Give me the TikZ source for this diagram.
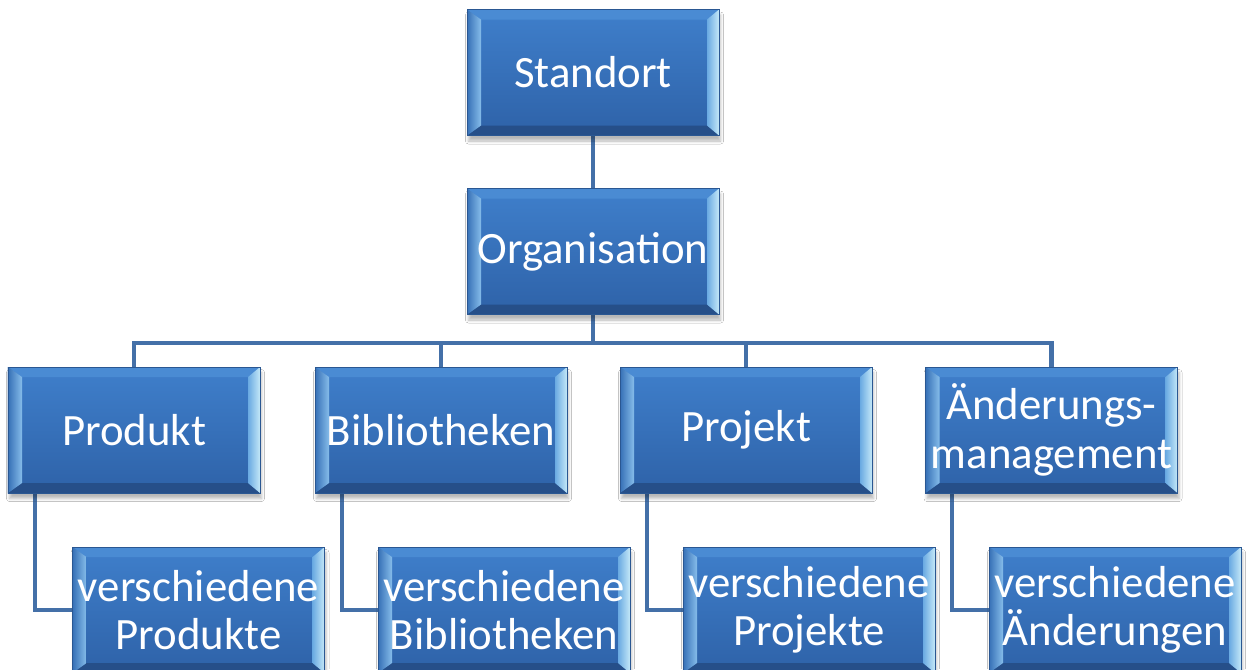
\documentclass[tikz,border=0pt]{standalone}
\usepackage{fontspec}
\setmainfont{Carlito}
\usetikzlibrary{shadows.blur,backgrounds}
\definecolor{boxtop}{HTML}{3F7FCB}
\definecolor{boxbot}{HTML}{2E62A8}
\definecolor{boxedge}{HTML}{2A5792}
\definecolor{bevlo}{HTML}{3670B6}
\definecolor{bevli}{HTML}{86BDEA}
\definecolor{bevri}{HTML}{6AAAE2}
\definecolor{bevro}{HTML}{C4E8F8}
\definecolor{bevtop}{HTML}{4A8BD3}
\definecolor{bevbot}{HTML}{264F89}
\definecolor{linkblue}{HTML}{4470A8}
\newcommand{\boxfont}{\fontsize{25.5pt}{27.5pt}\selectfont}
% bevel corner points relative to the box corners
\newcommand{\bsw}{path picture bounding box.south west}
\newcommand{\bse}{path picture bounding box.south east}
\newcommand{\bnw}{path picture bounding box.north west}
\newcommand{\bne}{path picture bounding box.north east}
\tikzset{
  bevbox/.style={rectangle, minimum width=5.04cm, minimum height=2.52cm,
    text width=5.04cm, inner sep=0pt, align=center, text=white, font=\boxfont,
    draw=boxedge, line width=0.5pt, top color=boxtop, bottom color=boxbot,
    blur shadow={shadow xshift=0.03cm, shadow yshift=-0.11cm,
      shadow blur radius=0.06cm, shadow opacity=28},
    path picture={
      % top and bottom bevels
      \fill[bevtop] (\bnw) -- (\bne) -- ([xshift=-0.24cm,yshift=-0.2cm]\bne)
        -- ([xshift=0.28cm,yshift=-0.2cm]\bnw) -- cycle;
      \fill[bevbot] (\bsw) -- (\bse) -- ([xshift=-0.24cm,yshift=0.2cm]\bse)
        -- ([xshift=0.28cm,yshift=0.2cm]\bsw) -- cycle;
      % side bevels
      \shade[left color=bevlo, right color=bevli]
        (\bsw) -- (\bnw) -- ([xshift=0.28cm,yshift=-0.2cm]\bnw)
        -- ([xshift=0.28cm,yshift=0.2cm]\bsw) -- cycle;
      \shade[left color=bevri, right color=bevro]
        (\bse) -- (\bne) -- ([xshift=-0.24cm,yshift=-0.2cm]\bne)
        -- ([xshift=-0.24cm,yshift=0.2cm]\bse) -- cycle;
    }},
  link/.style={draw=linkblue, line width=2.3pt}
}
\begin{document}
\begin{tikzpicture}
\useasboundingbox (0,0) rectangle (25,-13.38);

\node[bevbox] (standort) at (11.86,-1.45) {Standort};
\node[bevbox] (org) at (11.86,-5.03) {Organisation};

\node[bevbox] (produkt) at (2.68,-8.60) {Produkt};
\node[bevbox] (biblio) at (8.82,-8.60) {Bibliotheken};
\node[bevbox] (projekt) at (14.92,-8.60) {Projekt};
\node[bevbox] (aender) at (21.03,-8.60) {Änderungs-\\management};

\node[bevbox] (vprod) at (3.97,-12.20) {verschiedene\\Produkte};
\node[bevbox] (vbib) at (10.08,-12.20) {verschiedene\\Bibliotheken};
\node[bevbox] (vproj) at (16.18,-12.20) {verschiedene\\Projekte};
\node[bevbox] (vaend) at (22.30,-12.20) {verschiedene\\Änderungen};

\coordinate (hub) at (11.86,-6.86);

\begin{pgfonlayer}{background}
  \fill[white] (0,0) rectangle (25,-13.38);
  \draw[link] (standort.south) -- (org.north);
  \draw[link] (org.south) -- (hub);
  \draw[link] (produkt.north) |- (hub);
  \draw[link] (biblio.north) |- (hub);
  \draw[link] (projekt.north) |- (hub);
  \draw[link] (aender.north) |- (hub);
  \draw[link] ([xshift=0.54cm]produkt.south west) |- (vprod.west);
  \draw[link] ([xshift=0.54cm]biblio.south west) |- (vbib.west);
  \draw[link] ([xshift=0.54cm]projekt.south west) |- (vproj.west);
  \draw[link] ([xshift=0.54cm]aender.south west) |- (vaend.west);
\end{pgfonlayer}
\end{tikzpicture}
\end{document}
